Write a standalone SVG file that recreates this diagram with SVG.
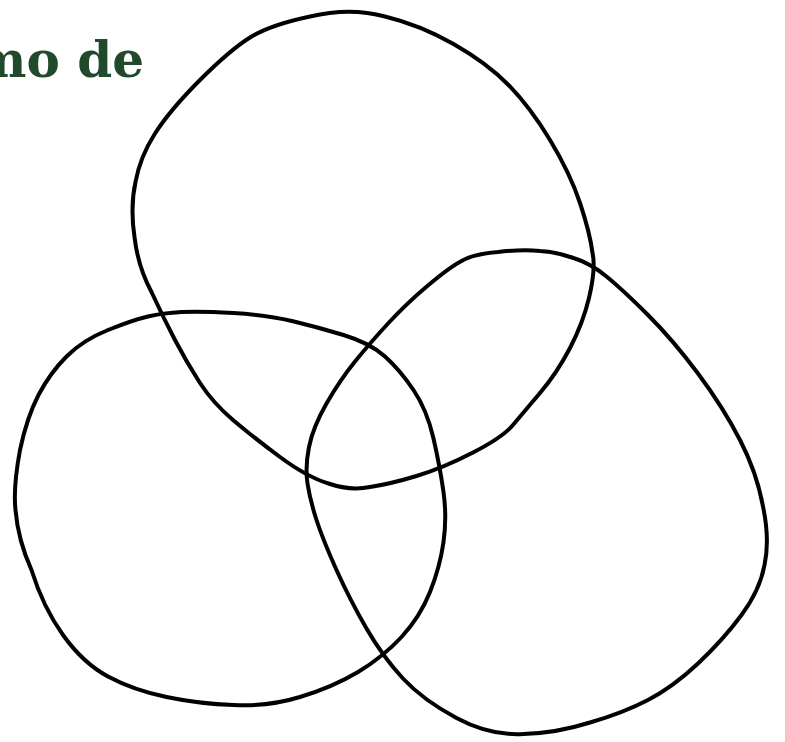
<svg xmlns="http://www.w3.org/2000/svg" width="785" height="742" viewBox="0 0 785 742">
<style>
.blob{fill:none;stroke:#000;stroke-width:4;stroke-linejoin:round}
.title{font-family:"DejaVu Serif","Liberation Serif",serif;font-weight:bold;font-size:50px;fill:#204a2b}
</style>
<rect width="785" height="742" fill="#fff"/>
<text class="title" x="144" y="77" text-anchor="end">mo de</text>
<g id="circle-top">
<path class="blob" d="M 385,16.5 Q 420,25 453.5,44 Q 487,63 508.5,85 Q 530,107 550,140 Q 570,173 580,203 Q 590,233 592.5,253 Q 596,268 589,298 Q 583,323 570,348 Q 557,373 540,393 Q 523,413 513,425 Q 503,437 473,452.5 Q 443,468 416.5,476 Q 390,484 370,487 Q 350,491 328.5,483.5 Q 307,477 280,457 Q 253,437 233,420 Q 213,403 200,383 Q 187,363 175,340 Q 163,317 151.5,292 Q 138,267 134.5,237 Q 130,207 135.5,182 Q 140,157 155,133.5 Q 170,110 200,80 Q 230,50 250,37.5 Q 270,25 310,16.5 Q 350,7 385,16.5 Z"/>
</g>
<g id="circle-left">
<path class="blob" d="M 181.5,312 Q 200,311 233.5,313 Q 267,315 292,321 Q 317,327 343.5,335 Q 370,343 385,356.5 Q 400,370 413.5,390 Q 427,410 433.5,438.5 Q 440,467 443.5,492 Q 447,517 443.5,542 Q 440,567 430,592 Q 420,617 401.5,637 Q 383,657 358,672 Q 333,687 300,697 Q 267,707 233.5,705 Q 200,704 166.5,697 Q 133,690 108,676.5 Q 83,663 63,635 Q 43,607 31.5,570 Q 18,540 15.5,510 Q 13,488 20,450 Q 27,417 38.5,395 Q 50,373 66.5,356.5 Q 83,340 108,330 Q 133,320 148,316.5 Q 163,313 181.5,312 Z"/>
</g>
<g id="circle-right">
<path class="blob" d="M 540,251 Q 557,252 573.5,258 Q 590,263 606.5,276.5 Q 623,290 648,315 Q 673,340 698,373.5 Q 723,407 740,440 Q 757,473 763,506.5 Q 770,540 764.5,565 Q 760,590 741.5,615 Q 723,640 698,663.5 Q 673,687 648,700 Q 623,713 590,722.5 Q 557,733 523.5,734 Q 490,736 456.5,718 Q 423,700 403,678.5 Q 383,657 366.5,628.5 Q 350,600 336.5,570 Q 323,540 316.5,520 Q 310,500 307.5,483.5 Q 305,467 309,447 Q 313,427 326.5,403.5 Q 340,380 355,361.5 Q 370,343 388.5,323 Q 407,303 428.5,285 Q 450,267 461.5,261 Q 473,254 498,252 Q 523,249 540,251 Z"/>
</g>
<g id="connectors"></g>
</svg>
